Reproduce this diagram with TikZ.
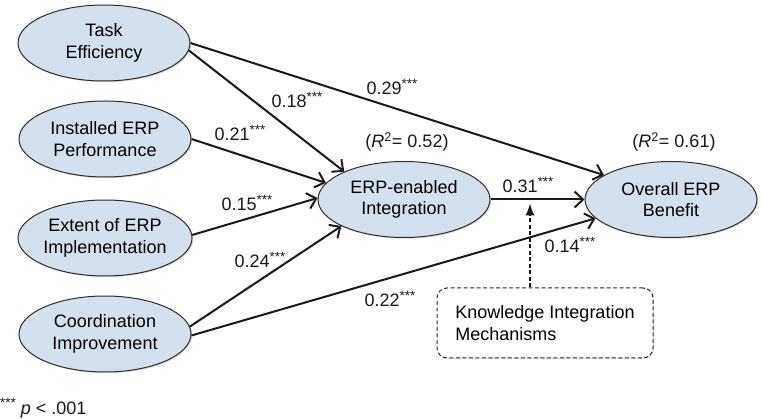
\documentclass[tikz,border=0pt]{standalone}
\usepackage{fontspec}
\setmainfont{Liberation Sans}
\usetikzlibrary{arrows.meta,shadows,calc,shapes.geometric}
\definecolor{ellfill}{RGB}{213,224,238}
\definecolor{ellline}{RGB}{45,45,45}
\definecolor{inkc}{RGB}{25,25,25}
\newcommand{\sigstars}{\raisebox{0.38em}{\fontsize{13.5}{13.5}\selectfont ***}}
\begin{document}
\begin{tikzpicture}[x=1pt,y=-1pt,
  font=\fontsize{18}{21.5}\selectfont,
  construct/.style={ellipse, draw=ellline, line width=1pt, fill=ellfill,
    minimum width=172pt, minimum height=76pt, inner sep=0pt, align=center,
    drop shadow={opacity=0.3, shadow xshift=1.2pt, shadow yshift=-1.2pt}},
  link/.style={line width=2pt, draw=inkc, -{Straight Barb[length=8.5pt,width=16pt]}},
  coef/.style={inner sep=0pt, text=inkc},
  modbox/.style={draw=ellline, dash pattern=on 4pt off 2.5pt, line width=1pt, rounded corners=10pt, fill=white,
    minimum width=216pt, minimum height=70pt, align=left,
    drop shadow={opacity=0.25, shadow xshift=1.2pt, shadow yshift=-1.2pt}}
]
\path[use as bounding box] (0,0) rectangle (763,419);

\node[construct] (te)   at (104,43)    {Task\\Efficiency};
\node[construct] (inst) at (105,139)   {Installed ERP\\Performance};
\node[construct] (ext)  at (105,238)   {Extent of ERP\\Implementation};
\node[construct] (co)   at (105,334)   {Coordination\\Improvement};
\node[construct] (int)  at (404,199.5) {ERP-enabled\\Integration};
\node[construct] (ob)   at (671,199.5) {Overall ERP\\Benefit};
\node[modbox] (kim) at (545,323) {Knowledge Integration\\Mechanisms};

\node[coef] (r1) at (407,142) {(\textit{R}\textsuperscript{2}= 0.52)};
\node[coef] (r2) at (674,142) {(\textit{R}\textsuperscript{2}= 0.61)};

\draw[link] (te.east) -- (ob.160);
\draw[link] (te.-5) -- (int.155);
\draw[link] (inst.east) -- (int.168);
\draw[link] (ext.2) -- (int.179);
\draw[link] (co.5) -- (int.203);
\draw[link] (co.-1) -- (ob.194);
\draw[link] (int.east) -- (ob.west);

\coordinate (m) at ($(int.east)!0.42!(ob.west)$);
\draw[dash pattern=on 4pt off 2.5pt, line width=1.4pt, draw=inkc, -{Latex[length=12pt,width=9pt]}] (kim.north -| m) -- ($(m)+(0,4)$);

\node[coef] (c29) at (392,87)  {0.29\sigstars};
\node[coef] (c18) at (297,100) {0.18\sigstars};
\node[coef] (c21) at (240,133) {0.21\sigstars};
\node[coef] (c15) at (247,203) {0.15\sigstars};
\node[coef] (c24) at (260,260) {0.24\sigstars};
\node[coef] (c22) at (390,299) {0.22\sigstars};
\node[coef] (c31) at (528,185) {0.31\sigstars};
\node[coef] (c14) at (570,245) {0.14\sigstars};

\node[coef, anchor=west] (note) at (0,408) {\sigstars\ \textit{p} < .001};
\end{tikzpicture}
\end{document}
